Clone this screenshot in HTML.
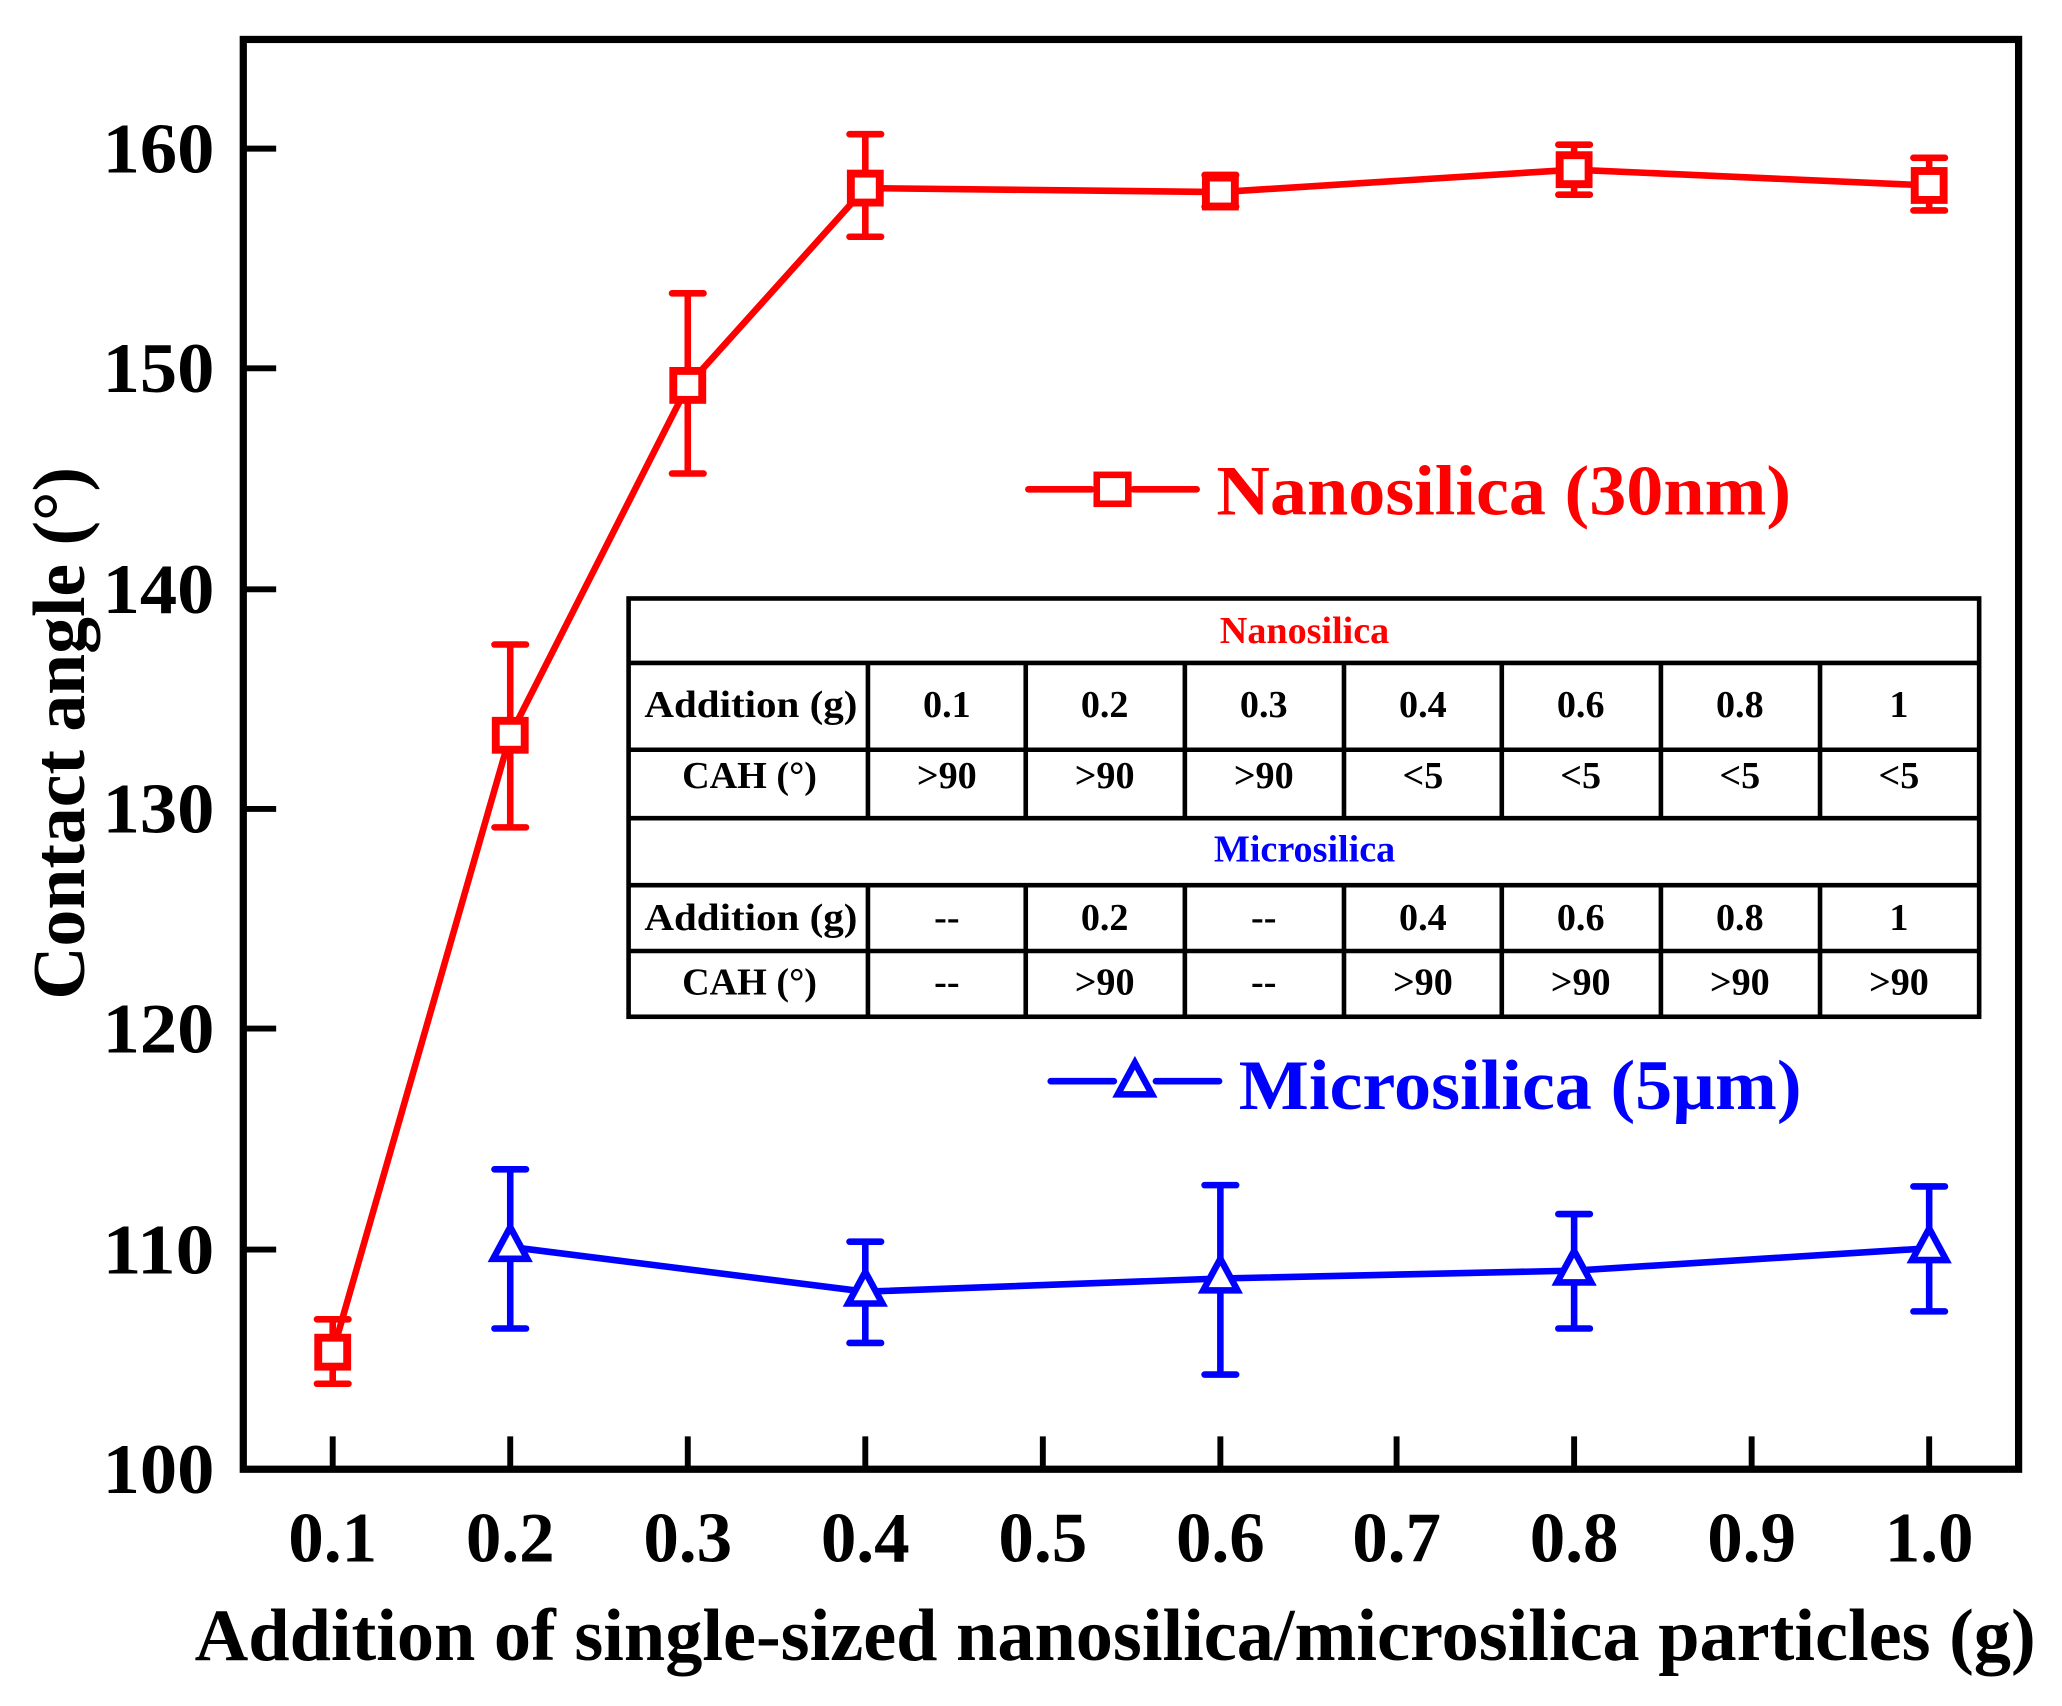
<!DOCTYPE html>
<html><head><meta charset="utf-8"><style>html,body{margin:0;padding:0;background:#fff}svg{display:block}</style></head>
<body>
<svg width="2062" height="1706" viewBox="0 0 1568 1297" preserveAspectRatio="none" xmlns="http://www.w3.org/2000/svg" font-family="Liberation Serif, serif" font-weight="bold">
<rect x="185" y="30" width="1350" height="1087" fill="none" stroke="#000" stroke-width="5.5"/>
<g stroke="#000" stroke-width="4.5">
<line x1="253" y1="1117" x2="253" y2="1092"/><line x1="388" y1="1117" x2="388" y2="1092"/><line x1="523" y1="1117" x2="523" y2="1092"/><line x1="658" y1="1117" x2="658" y2="1092"/><line x1="793" y1="1117" x2="793" y2="1092"/><line x1="928" y1="1117" x2="928" y2="1092"/><line x1="1062" y1="1117" x2="1062" y2="1092"/><line x1="1197" y1="1117" x2="1197" y2="1092"/><line x1="1332" y1="1117" x2="1332" y2="1092"/><line x1="1467" y1="1117" x2="1467" y2="1092"/>
<line x1="185" y1="950" x2="210" y2="950"/><line x1="185" y1="782" x2="210" y2="782"/><line x1="185" y1="615" x2="210" y2="615"/><line x1="185" y1="448" x2="210" y2="448"/><line x1="185" y1="280" x2="210" y2="280"/><line x1="185" y1="113" x2="210" y2="113"/>
</g>
<g font-size="54" text-anchor="end">
<text x="163" y="1135" textLength="85" lengthAdjust="spacingAndGlyphs">100</text><text x="163" y="968" textLength="85" lengthAdjust="spacingAndGlyphs">110</text><text x="163" y="800" textLength="85" lengthAdjust="spacingAndGlyphs">120</text><text x="163" y="633" textLength="85" lengthAdjust="spacingAndGlyphs">130</text><text x="163" y="466" textLength="85" lengthAdjust="spacingAndGlyphs">140</text><text x="163" y="298" textLength="85" lengthAdjust="spacingAndGlyphs">150</text><text x="163" y="131" textLength="85" lengthAdjust="spacingAndGlyphs">160</text>
</g>
<g font-size="54" text-anchor="middle">
<text x="253" y="1187">0.1</text><text x="388" y="1187">0.2</text><text x="523" y="1187">0.3</text><text x="658" y="1187">0.4</text><text x="793" y="1187">0.5</text><text x="928" y="1187">0.6</text><text x="1062" y="1187">0.7</text><text x="1197" y="1187">0.8</text><text x="1332" y="1187">0.9</text><text x="1467" y="1187">1.0</text>
</g>
<text x="148" y="1262" font-size="56" textLength="1400" lengthAdjust="spacingAndGlyphs">Addition of single-sized nanosilica/microsilica particles (g)</text>
<text transform="translate(64,760) rotate(-90)" font-size="56" textLength="405" lengthAdjust="spacingAndGlyphs">Contact angle (°)</text>
<!-- red -->
<g stroke="#f00" stroke-width="5" fill="none" stroke-linecap="round">
<polyline points="253,1028 388,559 523,293 658,143 928,146 1197,129 1467,141"/>
<path d="M253,1052V1003M241,1052H265M241,1003H265 M388,629V490M376,629H400M376,490H400 M523,360V223M511,360H535M511,223H535 M658,180V102M646,180H670M646,102H670 M928,157V133M916,157H940M916,133H940 M1197,148V110M1185,148H1209M1185,110H1209 M1467,160V120M1455,160H1479M1455,120H1479"/>
</g>
<g stroke="#f00" stroke-width="6" fill="#fff">
<rect x="242" y="1017" width="22" height="22"/><rect x="377" y="548" width="22" height="22"/><rect x="512" y="282" width="22" height="22"/><rect x="647" y="132" width="22" height="22"/><rect x="917" y="135" width="22" height="22"/><rect x="1186" y="118" width="22" height="22"/><rect x="1456" y="130" width="22" height="22"/>
</g>
<!-- blue -->
<g stroke="#00f" stroke-width="5" fill="none" stroke-linecap="round">
<polyline points="388,948 658,982 928,972 1197,966 1467,949"/>
<path d="M388,1010V889M376,1010H400M376,889H400 M658,1021V944M646,1021H670M646,944H670 M928,1045V901M916,1045H940M916,901H940 M1197,1010V923M1185,1010H1209M1185,923H1209 M1467,997V902M1455,997H1479M1455,902H1479"/>
</g>
<g stroke="#00f" stroke-width="5" fill="#fff">
<polygon points="388,933 375,957 401,957"/><polygon points="658,967 645,991 671,991"/><polygon points="928,957 915,981 941,981"/><polygon points="1197,951 1184,975 1210,975"/><polygon points="1467,934 1454,958 1480,958"/>
</g>
<!-- legend -->
<g stroke-width="5" stroke-linecap="round">
<line x1="782" y1="372" x2="830" y2="372" stroke="#f00"/><line x1="862" y1="372" x2="910" y2="372" stroke="#f00"/>
<rect x="834" y="361" width="24" height="22" fill="#fff" stroke="#f00"/>
<line x1="799" y1="822" x2="847" y2="822" stroke="#00f"/><line x1="879" y1="822" x2="927" y2="822" stroke="#00f"/>
<polygon points="863,808 850,832 876,832" fill="#fff" stroke="#00f"/>
</g>
<text x="925" y="391" font-size="54" fill="#f00" textLength="437" lengthAdjust="spacingAndGlyphs">Nanosilica (30nm)</text>
<text x="942" y="843" font-size="54" fill="#00f" textLength="428" lengthAdjust="spacingAndGlyphs">Microsilica (5µm)</text>
<!-- table -->
<g stroke="#000" stroke-width="3.5" fill="none">
<rect x="478" y="455" width="1027" height="318"/>
<path d="M478,504H1505M478,570H1505M478,622H1505M478,673H1505M478,723H1505"/>
<path d="M660,504V622M780,504V622M901,504V622M1022,504V622M1142,504V622M1263,504V622M1384,504V622"/>
<path d="M660,673V773M780,673V773M901,673V773M1022,673V773M1142,673V773M1263,673V773M1384,673V773"/>
</g>
<g font-size="29" text-anchor="middle">
<text x="992" y="489" fill="#f00">Nanosilica</text>
<text x="992" y="655" fill="#00f">Microsilica</text>
<text x="571" y="545" textLength="162" lengthAdjust="spacingAndGlyphs">Addition (g)</text><text x="720" y="545">0.1</text><text x="840" y="545">0.2</text><text x="961" y="545">0.3</text><text x="1082" y="545">0.4</text><text x="1202" y="545">0.6</text><text x="1323" y="545">0.8</text><text x="1444" y="545">1</text>
<text x="570" y="599">CAH (°)</text><text x="720" y="599">&gt;90</text><text x="840" y="599">&gt;90</text><text x="961" y="599">&gt;90</text><text x="1082" y="599">&lt;5</text><text x="1202" y="599">&lt;5</text><text x="1323" y="599">&lt;5</text><text x="1444" y="599">&lt;5</text>
<text x="571" y="707" textLength="162" lengthAdjust="spacingAndGlyphs">Addition (g)</text><text x="720" y="707">--</text><text x="840" y="707">0.2</text><text x="961" y="707">--</text><text x="1082" y="707">0.4</text><text x="1202" y="707">0.6</text><text x="1323" y="707">0.8</text><text x="1444" y="707">1</text>
<text x="570" y="756">CAH (°)</text><text x="720" y="756">--</text><text x="840" y="756">&gt;90</text><text x="961" y="756">--</text><text x="1082" y="756">&gt;90</text><text x="1202" y="756">&gt;90</text><text x="1323" y="756">&gt;90</text><text x="1444" y="756">&gt;90</text>
</g>
</svg>
</body></html>
